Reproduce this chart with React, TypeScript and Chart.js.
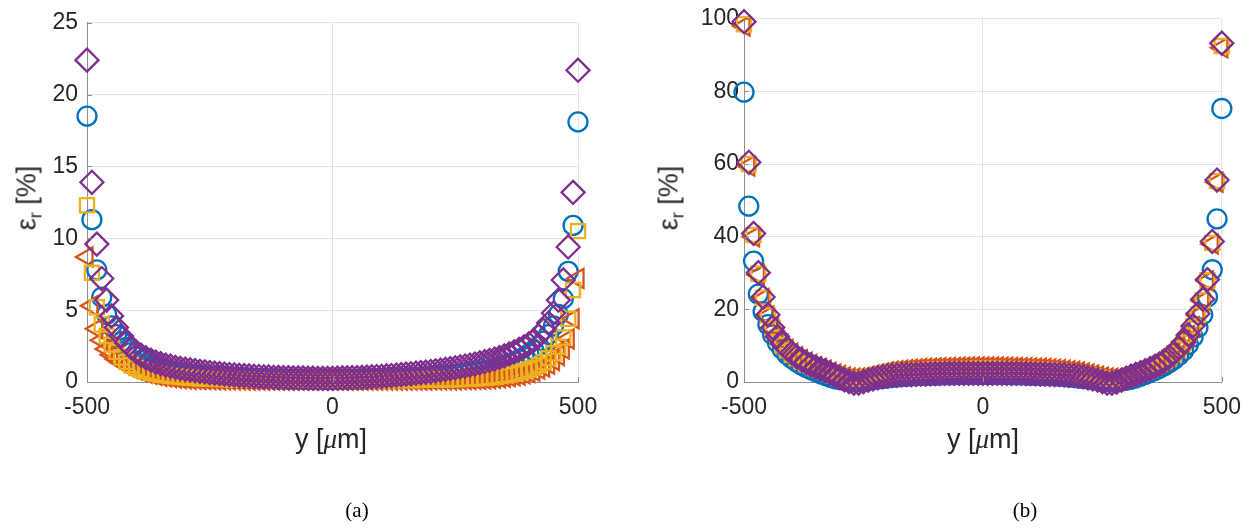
import React, { useEffect, useRef } from "react";
import { Chart, registerables } from "chart.js";

Chart.register(...registerables);

// x positions (µm)
const X_POS = [-500,-490,-480,-470,-460,-450,-440,-430,-420,-410,-400,-390,-380,-370,-360,-350,-340,-330,-320,-310,-300,-290,-280,-270,-260,-250,-240,-230,-220,-210,-200,-190,-180,-170,-160,-150,-140,-130,-120,-110,-100,-90,-80,-70,-60,-50,-40,-30,-20,-10,0,10,20,30,40,50,60,70,80,90,100,110,120,130,140,150,160,170,180,190,200,210,220,230,240,250,260,270,280,290,300,310,320,330,340,350,360,370,380,390,400,410,420,430,440,450,460,470,480,490,500];

// ---- panel (a) ----
const A_CIRCLE = [18.5,11.3,7.8,5.9,4.7,3.9,3.3,2.8,2.4,2.05,1.75,1.5,1.3,1.15,1.02,0.92,0.83,0.76,0.7,0.64,0.59,0.55,0.51,0.47,0.44,0.41,0.38,0.36,0.34,0.32,0.3,0.28,0.27,0.26,0.25,0.24,0.23,0.22,0.22,0.21,0.21,0.2,0.2,0.2,0.19,0.19,0.19,0.19,0.19,0.19,0.19,
  0.19,0.19,0.2,0.2,0.2,0.21,0.21,0.22,0.22,0.23,0.24,0.25,0.26,0.27,0.28,0.3,0.31,0.33,0.35,0.37,0.4,0.42,0.45,0.48,0.52,0.56,0.6,0.64,0.69,0.75,0.81,0.88,0.96,1.05,1.15,1.27,1.4,1.55,1.73,1.95,2.2,2.5,2.85,3.3,3.9,4.7,5.8,7.7,10.9,18.1];
const A_TRIANGLE = [8.7,5.3,3.7,2.9,2.3,1.9,1.6,1.35,1.15,0.98,0.84,0.72,0.62,0.54,0.47,0.41,0.36,0.32,0.28,0.25,0.22,0.2,0.19,0.18,0.17,0.17,0.16,0.16,0.15,0.15,0.15,0.15,0.14,0.14,0.14,0.14,0.14,0.14,0.14,0.14,0.14,0.14,0.14,0.14,0.14,0.14,0.14,0.14,0.14,0.14,0.14,
  0.14,0.14,0.14,0.14,0.14,0.14,0.14,0.14,0.14,0.14,0.14,0.14,0.14,0.14,0.14,0.14,0.14,0.14,0.14,0.15,0.15,0.15,0.15,0.16,0.16,0.17,0.17,0.18,0.19,0.2,0.21,0.23,0.26,0.29,0.33,0.38,0.43,0.49,0.57,0.66,0.77,0.9,1.05,1.25,1.5,1.85,2.3,3.0,4.4,7.2];
const A_SQUARE = [12.3,7.6,5.2,4.0,3.2,2.6,2.1,1.7,1.4,1.17,0.98,0.84,0.73,0.64,0.57,0.51,0.46,0.42,0.38,0.35,0.32,0.3,0.28,0.26,0.24,0.23,0.22,0.21,0.2,0.19,0.18,0.17,0.17,0.16,0.16,0.15,0.15,0.15,0.14,0.14,0.14,0.14,0.13,0.13,0.13,0.13,0.13,0.13,0.13,0.13,0.13,
  0.13,0.13,0.13,0.13,0.13,0.13,0.13,0.13,0.13,0.13,0.13,0.13,0.13,0.14,0.14,0.14,0.14,0.15,0.15,0.16,0.16,0.17,0.18,0.19,0.2,0.21,0.22,0.24,0.26,0.28,0.3,0.33,0.37,0.41,0.46,0.52,0.59,0.67,0.76,0.87,1.0,1.17,1.38,1.65,2.0,2.45,3.1,4.4,6.4,10.5];
const A_DIAMOND = [22.4,13.9,9.6,7.2,5.7,4.6,3.8,3.2,2.75,2.4,2.1,1.87,1.68,1.52,1.39,1.28,1.18,1.1,1.02,0.95,0.89,0.84,0.79,0.74,0.7,0.66,0.62,0.58,0.55,0.52,0.49,0.46,0.44,0.42,0.4,0.38,0.36,0.35,0.33,0.32,0.31,0.3,0.29,0.28,0.28,0.27,0.27,0.26,0.26,0.26,0.26,
  0.27,0.28,0.29,0.3,0.31,0.32,0.34,0.36,0.38,0.4,0.42,0.45,0.48,0.51,0.54,0.57,0.61,0.65,0.69,0.73,0.78,0.83,0.88,0.93,0.99,1.05,1.11,1.18,1.25,1.33,1.41,1.5,1.6,1.7,1.82,1.95,2.1,2.27,2.45,2.65,2.9,3.2,3.6,4.1,4.8,5.7,7.1,9.4,13.2,21.7];

// ---- panel (b) ----
const B_CIRCLE = [79.8,48.4,33.3,24.2,19.4,15.8,13.0,10.8,9.0,7.6,6.5,5.5,4.7,4.0,3.4,2.8,2.3,1.8,1.3,0.9,0.7,0.4,0.2,0.1,0.1,0.3,0.5,0.7,0.85,1.0,1.1,1.3,1.4,1.5,1.6,1.7,1.75,1.8,1.85,1.9,1.9,1.95,2.0,2.0,2.0,2.05,2.05,2.1,2.1,2.1,2.1,
  2.1,2.1,2.1,2.05,2.05,2.0,2.0,2.0,1.95,1.9,1.9,1.85,1.8,1.75,1.7,1.6,1.5,1.4,1.3,1.1,1.0,0.85,0.7,0.5,0.3,0.15,0.1,0.15,0.3,0.5,0.8,1.1,1.6,2.1,2.6,3.2,3.8,4.5,5.3,6.2,7.3,8.6,10.3,12.4,15.0,18.5,23.4,30.9,44.9,75.3];
const B_TRIANGLE = [98.0,59.5,40.0,29.5,23.0,18.2,14.8,12.3,10.4,9.0,7.9,6.9,6.1,5.4,4.8,4.2,3.7,3.2,2.7,2.2,1.8,1.4,1.1,1.0,1.1,1.3,1.6,1.9,2.2,2.5,2.75,2.95,3.1,3.25,3.4,3.5,3.6,3.7,3.75,3.8,3.85,3.9,3.95,4.0,4.0,4.05,4.05,4.1,4.1,4.1,4.1,
  4.1,4.1,4.1,4.05,4.05,4.0,4.0,3.95,3.9,3.85,3.8,3.75,3.7,3.6,3.5,3.4,3.25,3.1,2.95,2.75,2.5,2.2,1.9,1.6,1.3,1.1,1.0,1.0,1.2,1.5,1.9,2.4,2.9,3.4,4.0,4.6,5.3,6.1,7.0,8.1,9.4,10.9,12.8,15.2,18.4,22.3,27.8,38.0,55.0,92.0];
const B_SQUARE = [98.5,60.0,40.5,29.8,23.2,18.3,14.9,12.2,10.2,8.7,7.5,6.5,5.7,5.0,4.4,3.8,3.3,2.8,2.3,1.8,1.4,1.0,0.7,0.6,0.7,0.9,1.2,1.5,1.8,2.05,2.3,2.5,2.65,2.8,2.9,3.0,3.1,3.2,3.25,3.3,3.35,3.4,3.45,3.5,3.5,3.55,3.55,3.6,3.6,3.6,3.6,
  3.6,3.6,3.6,3.55,3.55,3.5,3.5,3.45,3.4,3.35,3.3,3.25,3.2,3.1,3.0,2.9,2.8,2.65,2.5,2.3,2.05,1.8,1.5,1.2,0.9,0.7,0.6,0.6,0.8,1.1,1.5,2.0,2.5,3.0,3.6,4.3,5.0,5.8,6.8,7.9,9.2,10.8,12.8,15.3,18.5,22.5,28.0,38.3,55.3,92.5];
const B_DIAMOND = [99.2,60.5,40.9,30.1,23.4,18.5,15.0,12.5,10.6,9.2,8.0,7.0,6.2,5.4,4.7,4.1,3.6,3.1,2.5,1.9,1.2,0.6,0.1,-0.3,-0.3,0.1,0.5,0.85,1.15,1.4,1.65,1.75,1.85,1.95,2.0,2.05,2.1,2.15,2.2,2.25,2.3,2.3,2.35,2.35,2.4,2.4,2.4,2.4,2.4,2.4,2.4,
  2.4,2.4,2.4,2.4,2.4,2.4,2.35,2.35,2.3,2.3,2.25,2.2,2.15,2.1,2.05,2.0,1.95,1.85,1.75,1.65,1.4,1.15,0.85,0.5,0.1,-0.3,-0.3,0.0,0.5,1.1,1.6,2.1,2.6,3.1,3.7,4.3,5.0,5.9,6.9,8.0,9.4,11.0,13.0,15.5,18.8,22.8,28.2,38.7,55.6,93.3];

const A_Y_TICKS_MAX = 25;
const A_Y_STEP = 5;
const B_Y_TICKS_MAX = 100;
const B_Y_STEP = 20;
const X_TICK_STEP = 500;

const BLUE = "#0072BD";
const ORANGE = "#D95319";
const YELLOW = "#EDB120";
const PURPLE = "#7E2F8E";
const AXIS = "#8f8f8f";
const GRID = "#e4e4e4";
const TEXT = "#262626";
const FONT = "'Liberation Sans', Arial, Helvetica, sans-serif";

function pts(vals: number[]) {
  return X_POS.map((x, i) => ({ x, y: vals[i] }));
}

function datasets(circle: number[], tri: number[], sq: number[], dia: number[]) {
  const common = {
    showLine: false,
    backgroundColor: "rgba(0,0,0,0)",
    pointBackgroundColor: "rgba(0,0,0,0)",
    pointBorderWidth: 2.3,
    clip: false as any,
  };
  return [
    { ...common, label: "c", data: pts(circle), borderColor: BLUE, pointBorderColor: BLUE, pointStyle: "circle", pointRadius: 9.5, order: 3 },
    { ...common, label: "t", data: pts(tri), borderColor: ORANGE, pointBorderColor: ORANGE, pointStyle: "triangle", pointRotation: -90, pointRadius: 11, order: 2 },
    { ...common, label: "s", data: pts(sq), borderColor: YELLOW, pointBorderColor: YELLOW, pointStyle: "rect", pointRadius: 10, order: 1 },
    { ...common, label: "d", data: pts(dia), borderColor: PURPLE, pointBorderColor: PURPLE, pointStyle: "rectRot", pointRadius: 11.5, order: 0 },
  ];
}

const innerTicks = {
  id: "innerTicks",
  afterDraw(chart: any) {
    const { ctx, chartArea, scales } = chart;
    ctx.save();
    ctx.strokeStyle = AXIS;
    ctx.lineWidth = 1;
    scales.y.ticks.forEach((t: any) => {
      const py = Math.round(scales.y.getPixelForValue(t.value)) + 0.5;
      ctx.beginPath();
      ctx.moveTo(chartArea.left, py);
      ctx.lineTo(chartArea.left + 5, py);
      ctx.stroke();
    });
    scales.x.ticks.forEach((t: any) => {
      const px = Math.round(scales.x.getPixelForValue(t.value)) + 0.5;
      ctx.beginPath();
      ctx.moveTo(px, chartArea.bottom);
      ctx.lineTo(px, chartArea.bottom - 5);
      ctx.stroke();
    });
    ctx.restore();
  },
};

type PanelProps = {
  left: number;
  width: number;
  height: number;
  plotLeft: number;
  plotTop: number;
  plotRight: number;
  plotBottom: number;
  yMax: number;
  yStep: number;
  yPad: number;
  sets: any[];
};

function Panel(p: PanelProps) {
  const ref = useRef<HTMLCanvasElement>(null);
  useEffect(() => {
    if (!ref.current) return;
    const chart = new Chart(ref.current, {
      type: "scatter",
      data: { datasets: p.sets },
      plugins: [innerTicks],
      options: {
        animation: false,
        responsive: false,
        devicePixelRatio: 1,
        events: [],
        layout: { padding: { left: 0, top: p.plotTop, right: p.width - p.plotRight, bottom: 0 } },
        plugins: { legend: { display: false }, tooltip: { enabled: false } },
        scales: {
          x: {
            type: "linear",
            min: -500,
            max: 500,
            ticks: { stepSize: X_TICK_STEP, color: TEXT, font: { family: FONT, size: 23 }, padding: 12, maxRotation: 0 },
            grid: { color: GRID, drawTicks: false, lineWidth: 1 },
            border: { color: AXIS, width: 1 },
            afterFit: (s: any) => { s.height = p.height - p.plotBottom; },
          },
          y: {
            type: "linear",
            min: 0,
            max: p.yMax,
            ticks: { stepSize: p.yStep, color: TEXT, font: { family: FONT, size: 23 }, padding: p.yPad },
            grid: { color: GRID, drawTicks: false, lineWidth: 1 },
            border: { color: AXIS, width: 1 },
            afterFit: (s: any) => { s.width = p.plotLeft; },
          },
        },
      } as any,
    });
    return () => chart.destroy();
  }, []);
  return (
    <canvas
      ref={ref}
      width={p.width}
      height={p.height}
      style={{ position: "absolute", left: p.left, top: 0, width: p.width, height: p.height }}
    />
  );
}

const labelStyle: React.CSSProperties = {
  position: "absolute",
  fontFamily: FONT,
  fontSize: 27,
  color: TEXT,
  whiteSpace: "nowrap",
  lineHeight: 1,
};

function YTitle({ cx, cy }: { cx: number; cy: number }) {
  return (
    <div style={{ ...labelStyle, left: cx, top: cy, transform: "translate(-50%, -50%) rotate(-90deg)" }}>
      ε<sub style={{ fontSize: 18, verticalAlign: "-6px" }}>r</sub> [%]
    </div>
  );
}

function XTitle({ cx, cy }: { cx: number; cy: number }) {
  return (
    <div style={{ ...labelStyle, left: cx, top: cy, transform: "translate(-50%, -50%)" }}>
      y [<span style={{ fontFamily: "'Liberation Serif', 'DejaVu Serif', serif", fontStyle: "italic" }}>μ</span>m]
    </div>
  );
}

function Caption({ cx, cy, text }: { cx: number; cy: number; text: string }) {
  return (
    <div
      style={{
        position: "absolute",
        left: cx,
        top: cy,
        transform: "translate(-50%, -50%)",
        fontFamily: "'Liberation Serif', 'Times New Roman', serif",
        fontSize: 21,
        color: "#000",
        whiteSpace: "nowrap",
      }}
    >
      {text}
    </div>
  );
}

export default function App() {
  return (
    <div style={{ position: "absolute", left: 0, top: 0, width: 1253, height: 531, background: "#fff", overflow: "hidden" }}>
      <Panel
        left={0}
        width={640}
        height={430}
        plotLeft={87}
        plotTop={13}
        plotRight={578}
        plotBottom={382}
        yMax={A_Y_TICKS_MAX}
        yStep={A_Y_STEP}
        yPad={9}
        sets={datasets(A_CIRCLE, A_TRIANGLE, A_SQUARE, A_DIAMOND)}
      />
      <Panel
        left={640}
        width={613}
        height={430}
        plotLeft={104}
        plotTop={10}
        plotRight={583}
        plotBottom={382}
        yMax={B_Y_TICKS_MAX}
        yStep={B_Y_STEP}
        yPad={5}
        sets={datasets(B_CIRCLE, B_TRIANGLE, B_SQUARE, B_DIAMOND)}
      />
      <YTitle cx={29} cy={198} />
      <YTitle cx={671} cy={198} />
      <XTitle cx={331} cy={439} />
      <XTitle cx={983} cy={439} />
      <Caption cx={357} cy={510} text="(a)" />
      <Caption cx={1025} cy={510} text="(b)" />
    </div>
  );
}
